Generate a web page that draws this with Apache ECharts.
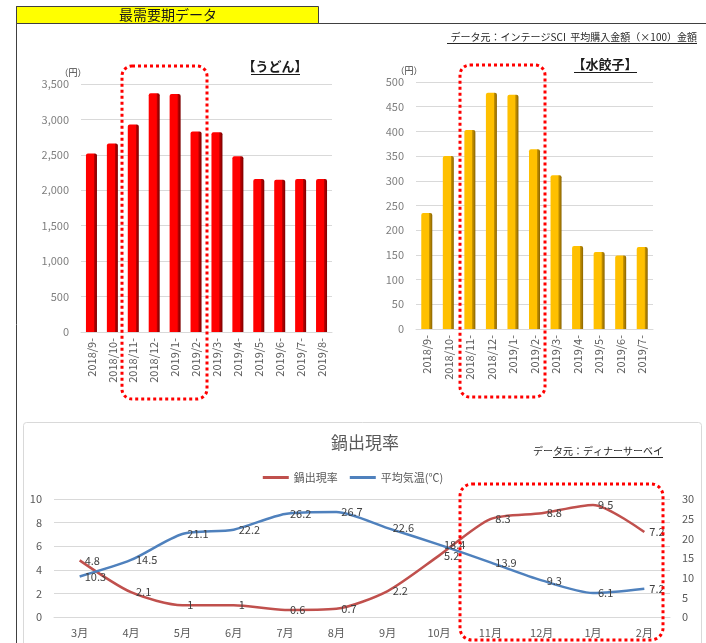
<!DOCTYPE html>
<html>
<head>
<meta charset="utf-8">
<script src="https://cdn.jsdelivr.net/npm/echarts@6/dist/echarts.min.js"></script>
<style>
  html, body { margin: 0; padding: 0; background: #fff; }
  #chart { width: 706px; height: 643px; }
</style>
</head>
<body>
<div id="chart"></div>
<script>
// うどん 平均購入金額 (円)
const udonMonths = ['2018/9-', '2018/10-', '2018/11-', '2018/12-', '2019/1-', '2019/2-',
                    '2019/3-', '2019/4-', '2019/5-', '2019/6-', '2019/7-', '2019/8-'];
const udonPrice = [2520, 2660, 2930, 3370, 3360, 2830, 2820, 2480, 2160, 2150, 2160, 2160];

// 水餃子 平均購入金額 (円)
const gyozaMonths = ['2018/9-', '2018/10-', '2018/11-', '2018/12-', '2019/1-', '2019/2-',
                     '2019/3-', '2019/4-', '2019/5-', '2019/6-', '2019/7-'];
const gyozaPrice = [235, 350, 403, 478, 474, 364, 311, 168, 156, 149, 166];

// 鍋出現率 と 平均気温
const nabeMonths = ['3月', '4月', '5月', '6月', '7月', '8月', '9月', '10月', '11月', '12月', '1月', '2月'];
const nabeRate = [4.8, 2.1, 1, 1, 0.6, 0.7, 2.2, 5.2, 8.3, 8.8, 9.5, 7.2];
const avgTemp = [10.3, 14.5, 21.1, 22.2, 26.2, 26.7, 22.6, 18.4, 13.9, 9.3, 6.1, 7.2];

const FONT = '"Noto Sans CJK JP", "Noto Sans", sans-serif';
const GRID_LINE = '#d9d9d9';

function barGradient(main, shade, dark) {
  return new echarts.graphic.LinearGradient(0, 0, 1, 0, [
    { offset: 0, color: main },
    { offset: 0.7, color: main },
    { offset: 0.74, color: shade },
    { offset: 1, color: dark }
  ]);
}

function yenAxis(gridIndex, max, interval, fmt, shift) {
  return {
    type: 'value', gridIndex, min: 0, max, interval,
    name: '（円）', nameLocation: 'end', nameGap: 7,
    nameTextStyle: { color: '#404040', fontSize: 9, fontFamily: FONT, align: 'center', padding: [0, shift, 0, 0] },
    axisLine: { show: false }, axisTick: { show: false },
    axisLabel: { color: '#7f7f7f', fontSize: 11, fontFamily: FONT, margin: 12, formatter: fmt },
    splitLine: { lineStyle: { color: GRID_LINE, width: 1 } }
  };
}

function monthAxis(gridIndex, data) {
  return {
    type: 'category', gridIndex, data,
    axisLine: { lineStyle: { color: GRID_LINE } }, axisTick: { show: false },
    axisLabel: { rotate: 90, color: '#595959', fontSize: 11, fontFamily: FONT, margin: 6, interval: 0 }
  };
}

function lineLabel() {
  return { show: true, position: 'right', distance: 5, color: '#404040', fontSize: 11, fontFamily: FONT };
}

const chart = echarts.init(document.getElementById('chart'), null, { renderer: 'canvas' });

const option = {
  backgroundColor: '#ffffff',
  animation: false,
  textStyle: { fontFamily: FONT },
  grid: [
    { left: 81, right: 374, top: 84, bottom: 311 },
    { left: 416, right: 53, top: 82, bottom: 314 },
    { left: 54, right: 36, top: 499, bottom: 26 }
  ],
  legend: {
    top: 467, left: 'center',
    itemWidth: 26, itemHeight: 3, itemGap: 12, icon: 'rect',
    textStyle: { color: '#595959', fontSize: 11, fontFamily: FONT },
    data: ['鍋出現率', '平均気温(℃)']
  },
  xAxis: [
    monthAxis(0, udonMonths),
    monthAxis(1, gyozaMonths),
    {
      type: 'category', gridIndex: 2, data: nabeMonths,
      axisLine: { lineStyle: { color: GRID_LINE } }, axisTick: { show: false },
      axisLabel: { color: '#595959', fontSize: 11, fontFamily: FONT, margin: 10 }
    }
  ],
  yAxis: [
    yenAxis(0, 3500, 500, v => v.toLocaleString('en-US'), 16),
    yenAxis(1, 500, 50, v => String(v), 14),
    {
      type: 'value', gridIndex: 2, min: 0, max: 10, interval: 2,
      axisLine: { show: false }, axisTick: { show: false },
      axisLabel: { color: '#595959', fontSize: 11, fontFamily: FONT, margin: 12 },
      splitLine: { lineStyle: { color: GRID_LINE } }
    },
    {
      type: 'value', gridIndex: 2, min: 0, max: 30, interval: 5, position: 'right',
      axisLine: { show: false }, axisTick: { show: false },
      axisLabel: { color: '#595959', fontSize: 11, fontFamily: FONT, margin: 12 },
      splitLine: { show: false }
    }
  ],
  series: [
    {
      name: 'うどん', type: 'bar', xAxisIndex: 0, yAxisIndex: 0, data: udonPrice,
      barWidth: 11,
      itemStyle: { color: barGradient('#ff0000', '#c00000', '#7a0000'), borderRadius: [2, 2, 0, 0] }
    },
    {
      name: '水餃子', type: 'bar', xAxisIndex: 1, yAxisIndex: 1, data: gyozaPrice,
      barWidth: 11,
      itemStyle: { color: barGradient('#ffc000', '#c89400', '#8a6400'), borderRadius: [2, 2, 0, 0] }
    },
    {
      name: '鍋出現率', type: 'line', xAxisIndex: 2, yAxisIndex: 2, data: nabeRate,
      smooth: 0.25, symbol: 'circle', symbolSize: 0, showSymbol: true,
      lineStyle: { color: '#c0504d', width: 2.5 }, itemStyle: { color: '#c0504d' },
      label: lineLabel()
    },
    {
      name: '平均気温(℃)', type: 'line', xAxisIndex: 2, yAxisIndex: 3, data: avgTemp,
      smooth: 0.25, symbol: 'circle', symbolSize: 0, showSymbol: true,
      lineStyle: { color: '#4f81bd', width: 2.5 }, itemStyle: { color: '#4f81bd' },
      label: lineLabel()
    }
  ],
  graphic: [
    // sheet frame and header cell
    { type: 'line', shape: { x1: 16.5, y1: 6, x2: 16.5, y2: 643 }, style: { stroke: '#404040', lineWidth: 1 } },
    { type: 'line', shape: { x1: 16, y1: 23.5, x2: 706, y2: 23.5 }, style: { stroke: '#404040', lineWidth: 1 } },
    { type: 'rect', shape: { x: 16.5, y: 6.5, width: 302, height: 17 }, style: { fill: '#ffff00', stroke: '#404040', lineWidth: 1 } },
    { type: 'text', style: { text: '最需要期データ', x: 168, y: 15, align: 'center', verticalAlign: 'middle', font: '14px ' + FONT, fill: '#1a1a1a' } },

    // data source note for the bar charts
    { type: 'text', style: { text: 'データ元：インテージSCI  平均購入金額（×100）金額', x: 697, y: 37, align: 'right', verticalAlign: 'middle', font: '10px ' + FONT, fill: '#262626' } },
    { type: 'line', shape: { x1: 447, y1: 43.5, x2: 697, y2: 43.5 }, style: { stroke: '#262626', lineWidth: 1 } },

    // bar chart titles
    { type: 'text', style: { text: '【うどん】', x: 275, y: 66, align: 'center', verticalAlign: 'middle', font: 'bold 13px ' + FONT, fill: '#1a1a1a' } },
    { type: 'line', shape: { x1: 251, y1: 74.5, x2: 300, y2: 74.5 }, style: { stroke: '#1a1a1a', lineWidth: 1 } },
    { type: 'text', style: { text: '【水餃子】', x: 605, y: 64, align: 'center', verticalAlign: 'middle', font: 'bold 13px ' + FONT, fill: '#1a1a1a' } },
    { type: 'line', shape: { x1: 574, y1: 72.5, x2: 637, y2: 72.5 }, style: { stroke: '#1a1a1a', lineWidth: 1 } },

    // line chart frame, title and source
    { type: 'rect', shape: { x: 23.5, y: 422.5, width: 678, height: 240, r: 3 }, style: { fill: 'none', stroke: '#d9d9d9', lineWidth: 1 }, z: -1 },
    { type: 'text', style: { text: '鍋出現率', x: 365, y: 443, align: 'center', verticalAlign: 'middle', font: '17px ' + FONT, fill: '#595959' } },
    { type: 'text', style: { text: 'データ元：ディナーサーベイ', x: 663, y: 451, align: 'right', verticalAlign: 'middle', font: '10px ' + FONT, fill: '#262626' } },
    { type: 'line', shape: { x1: 553, y1: 457.5, x2: 663, y2: 457.5 }, style: { stroke: '#262626', lineWidth: 1 } },

    // peak-season highlight boxes
    { type: 'rect', z: 100, shape: { x: 122, y: 66, width: 85, height: 333, r: 10 }, style: { fill: 'none', stroke: '#ff0000', lineWidth: 3, lineDash: [3, 3] } },
    { type: 'rect', z: 100, shape: { x: 460, y: 65, width: 85, height: 332, r: 10 }, style: { fill: 'none', stroke: '#ff0000', lineWidth: 3, lineDash: [3, 3] } },
    { type: 'rect', z: 100, shape: { x: 460, y: 484, width: 203, height: 156, r: 12 }, style: { fill: 'none', stroke: '#ff0000', lineWidth: 3, lineDash: [3, 3] } }
  ]
};

chart.setOption(option);
</script>
</body>
</html>
